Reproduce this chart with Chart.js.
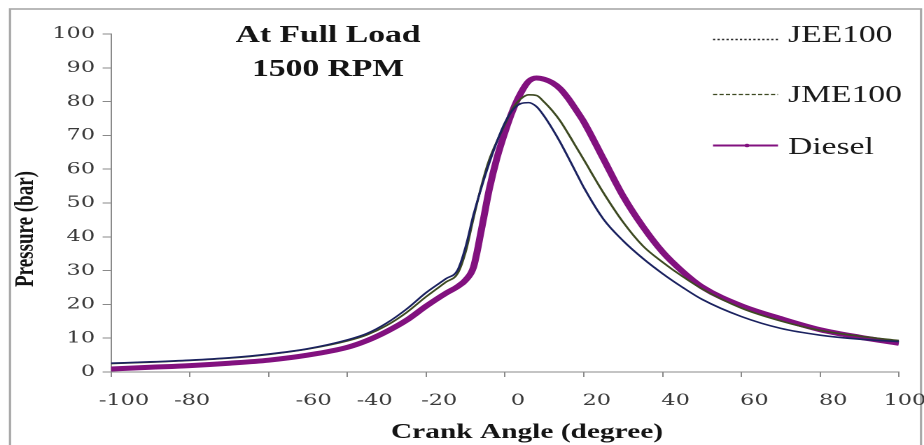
<!DOCTYPE html>
<html><head><meta charset="utf-8">
<script src="https://cdn.jsdelivr.net/npm/chart.js@4"></script>
<style>
html,body{margin:0;padding:0;background:#fff;overflow:hidden;width:924px;height:445px;}
#wrap{position:absolute;left:0;top:0;width:660px;height:445px;transform:scaleX(1.4);transform-origin:0 0;}
</style></head><body>
<div id="wrap"><canvas id="c" width="660" height="445"></canvas></div>
<script>
// ---- data ----
const crankAngle = [-100,-90,-80,-70,-60,-50,-40,-35,-30,-25,-20,-15,-12,-10,-8,-6,-4,-2,0,2,4,6,8,10,12,14,16,18,20,25,30,35,40,45,50,60,70,80,90,100];
const jee100 = [2.6,3.0,3.5,4.2,5.3,6.9,9.5,11.4,14.5,18.6,23.5,27.6,30.2,37,46.5,54.5,61.8,68.3,73.8,77.6,79.4,79.7,78.5,75.6,72,68,63.6,59.1,54.6,45.2,38.8,33.6,29.1,25.1,21.5,16.4,12.9,10.9,9.7,9.0];
const jme100 = [2.5,2.9,3.4,4.1,5.2,6.8,9.2,11.0,13.8,17.6,22.3,26.6,29.2,35.5,45.5,55,62.8,68.4,73.3,78.0,80.8,82.0,81.8,79.8,77.3,74.3,70.6,66.7,62.8,53,44.3,37.3,32.5,28.3,24.6,18.9,15.1,12.3,10.6,9.3];
const diesel = [0.9,1.4,1.9,2.6,3.5,5.0,7.3,9.3,12.0,15.3,19.5,23.3,25.3,27.2,31,42,54,63.5,71,77.5,82.5,86,87,86.6,85.6,83.8,81,77.6,74,63,52,43,35.5,29.8,25.2,19.6,15.8,12.5,10.3,8.5];
const xTickLabels = ['-100','-80','-60','-40','-20','0','20','40','60','80','100'];
const yTickLabels = ['0','10','20','30','40','50','60','70','80','90','100'];
const seriesNames = ['JEE100','JME100','Diesel'];
const titleLines = ['At Full Load','1500 RPM'];
const xTitle = 'Crank Angle (degree)';
const yTitle = 'Pressure (bar)';

// ---- styling / layout (inner, unstretched coordinates) ----
const SX = 1.4;
const X = v => v / SX;           // convert reference x to inner x
const labelShift = {'-80': -3, '-60': 9, '-40': 4, '100': -2}; // spaces to mimic the reference label placement

const pts = ys => crankAngle.map((x, i) => ({x, y: ys[i]}));

const framePlugin = {
  id: 'frame',
  beforeDraw(chart) {
    const c = chart.ctx;
    c.save();
    c.fillStyle = '#fff';
    c.fillRect(0, 0, chart.width, chart.height);
    c.strokeStyle = '#a8a8a8';
    c.lineWidth = 1.6;
    c.strokeRect(X(10), 9, X(921) - X(10), 460);
    c.restore();
  }
};

const textPlugin = {
  id: 'texts',
  afterDraw(chart) {
    const c = chart.ctx;
    const ds = chart.data.datasets;
    c.save();
    c.fillStyle = '#141414';
    // title
    c.font = 'bold 24px "Liberation Serif"';
    c.textAlign = 'center';
    c.textBaseline = 'alphabetic';
    c.fillText(titleLines[0], X(328), 42);
    c.fillText(titleLines[1], X(328), 76);
    // x title
    c.font = 'bold 21px "Liberation Serif"';
    c.fillText(xTitle, X(527), 438);
    // y title
    c.save();
    c.translate(X(26), 229);
    c.rotate(-Math.PI / 2);
    c.font = 'bold 19px "Liberation Serif"';
    c.textBaseline = 'middle';
    c.fillText(yTitle, 0, 0);
    c.restore();
    // legend
    const rows = [
      {y: 39.5, ty: 42, dash: [1.6, 1.6], w: 1.4, color: '#2a2a2a'},
      {y: 94.5, ty: 102, dash: [3, 1.6], w: 1.2, color: '#3e4a22'},
      {y: 145.5, ty: 154, dash: [], w: 2, color: ds[2].borderColor, marker: true}
    ];
    rows.forEach((r, i) => {
      c.beginPath();
      c.setLineDash(r.dash);
      c.strokeStyle = r.color;
      c.lineWidth = r.w;
      c.moveTo(X(713), r.y);
      c.lineTo(X(778), r.y);
      c.stroke();
      c.setLineDash([]);
      if (r.marker) {
        c.fillStyle = r.color;
        c.beginPath();
        c.arc(X(747), r.y, 1.8, 0, Math.PI * 2);
        c.fill();
      }
      c.fillStyle = '#1a1a1a';
      c.font = '24px "Liberation Serif"';
      c.textAlign = 'left';
      c.textBaseline = 'alphabetic';
      c.fillText(ds[i].label, X(788), r.ty);
    });
    c.restore();
  }
};

const tickFont = {family: '"DejaVu Serif"', size: 16};

new Chart(document.getElementById('c'), {
  type: 'line',
  data: {
    datasets: [
      {label: seriesNames[0], data: pts(jee100), borderColor: '#1b2260', borderWidth: 1.6, pointRadius: 0, fill: false, cubicInterpolationMode: 'monotone'},
      {label: seriesNames[1], data: pts(jme100), borderColor: '#3e4a22', borderWidth: 1.6, pointRadius: 0, fill: false, cubicInterpolationMode: 'monotone'},
      {label: seriesNames[2], data: pts(diesel), borderColor: '#82117f', borderWidth: 5, pointRadius: 0, fill: false, cubicInterpolationMode: 'monotone'}
    ]
  },
  options: {
    responsive: false,
    animation: false,
    devicePixelRatio: 2,
    layout: {padding: {left: 0, right: 660 - X(899), top: 34, bottom: 0}},
    plugins: {legend: {display: false}, tooltip: {enabled: false}, title: {display: false}},
    scales: {
      x: {
        type: 'linear', min: -100, max: 100,
        ticks: {
          stepSize: 20, autoSkip: false, color: '#3a3a3a', font: tickFont, padding: 14, labelOffset: X(13), maxRotation: 0, minRotation: 0,
          callback: (v) => {
            const lab = xTickLabels[Math.round((v + 100) / 20)];
            const s = labelShift[lab] || 0;
            return s > 0 ? ' '.repeat(s) + lab : lab + ' '.repeat(-s);
          }
        },
        grid: {drawOnChartArea: false, drawTicks: true, tickLength: 5, color: '#8a8a8a'},
        border: {display: true, color: '#8a8a8a', width: 1},
        afterFit(s) { s.height = 73; s.paddingLeft = 0; s.paddingRight = 0; }
      },
      y: {
        min: 0, max: 100,
        ticks: {
          stepSize: 10, color: '#3a3a3a', font: tickFont, padding: 5.4,
          callback: (v) => yTickLabels[Math.round(v / 10)]
        },
        grid: {drawOnChartArea: false, drawTicks: true, tickLength: 6, color: '#8a8a8a'},
        border: {display: true, color: '#8a8a8a', width: 1},
        afterFit(s) { s.width = X(111); s.paddingTop = 0; s.paddingBottom = 0; }
      }
    }
  },
  plugins: [framePlugin, textPlugin]
});
</script>
</body></html>
